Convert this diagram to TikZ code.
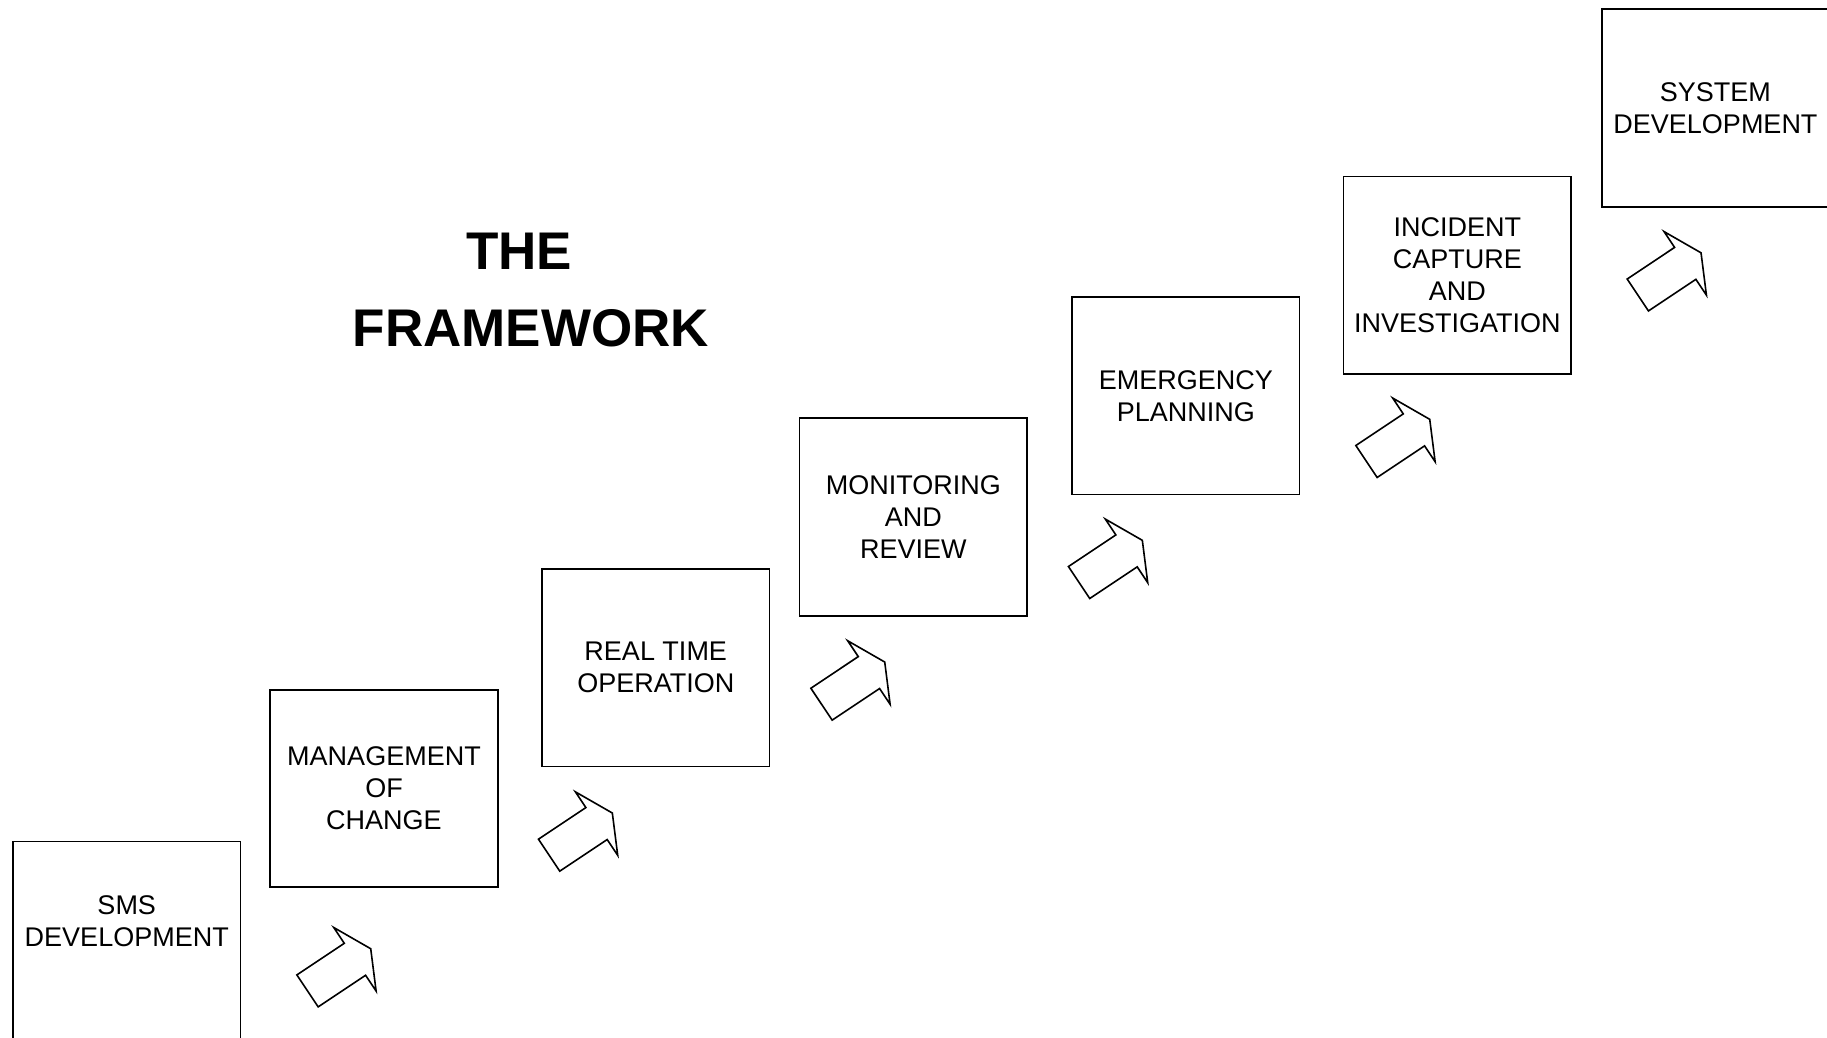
\documentclass[tikz,border=0pt]{standalone}
\usepackage{fontspec}
\setmainfont{Liberation Sans}
\begin{document}
\begin{tikzpicture}[x=1pt,y=1pt,
  stagebox/.style={draw, line width=1.6pt, minimum width=227.5pt, minimum height=197.5pt, inner sep=0pt},
  stagetext/.style={align=center, inner sep=0pt, font=\fontsize{27}{32}\selectfont},
  titletext/.style={inner sep=0pt, anchor=base, font=\fontsize{53}{64}\selectfont\bfseries},
  blockarrow/.pic={\draw[line width=1.6pt, line join=miter]
     (0,19.2)--(57,19.2)--(57,38.2)--(76,0)--(57,-38.2)--(57,-19.2)--(0,-19.2)--cycle;}]
\useasboundingbox (0,0) rectangle (1827,1037);
\clip (0,0) rectangle (1827,1037);
% title
\node[titletext] (t1) at (519.2,767) {THE};
\node[titletext] (t2) at (530.8,690.3) {FRAMEWORK};
% stage boxes
\node[stagebox] (sms) at (126.75,96.75) {};
\node[stagetext] (smst) at (126.75,116) {SMS\\DEVELOPMENT};
\node[stagebox, stagetext] (moc) at (384,248.5) {MANAGEMENT\\OF\\CHANGE};
\node[stagebox, stagetext] (rto) at (655.75,369.25) {REAL TIME\\OPERATION};
\node[stagebox, stagetext] (mr) at (913.3,520) {MONITORING\\AND\\REVIEW};
\node[stagebox, stagetext] (ep) at (1185.75,641.25) {EMERGENCY\\PLANNING};
\node[stagebox, stagetext] (ici) at (1457.35,761.65) {INCIDENT\\CAPTURE\\AND\\INVESTIGATION};
\node[stagebox, stagetext] (sd) at (1715.45,929) {SYSTEM\\DEVELOPMENT};
% block arrows
\pic[rotate=33.7] at (307.5,46.1) {blockarrow};
\pic[rotate=33.7] at (549.1,181.8) {blockarrow};
\pic[rotate=33.7] at (821.5,332.8) {blockarrow};
\pic[rotate=33.7] at (1079.1,454.5) {blockarrow};
\pic[rotate=33.7] at (1366.5,575.5) {blockarrow};
\pic[rotate=33.7] at (1637.8,742) {blockarrow};
\end{tikzpicture}
\end{document}
